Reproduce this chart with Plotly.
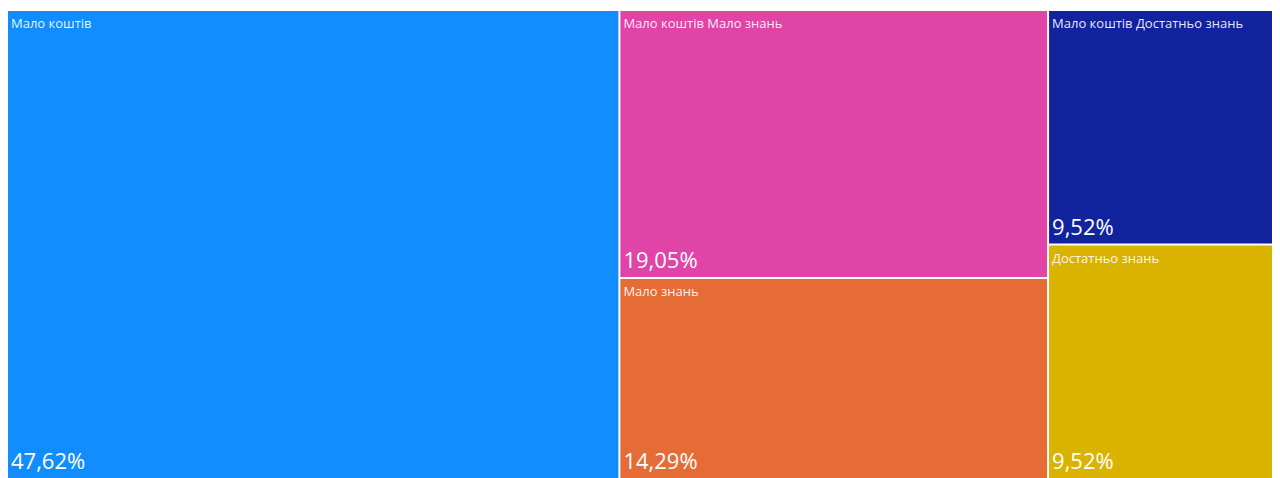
import plotly.graph_objects as go

labels = ["Мало коштів", "Мало коштів Мало знань", "Мало знань",
          "Мало коштів Достатньо знань", "Достатньо знань"]
values = [10, 4, 3, 2, 2]
colors = ["#118DFF", "#E044A7", "#E66C37", "#12239E", "#D9B300"]
parents = [""] * len(labels)

font_family = "Segoe UI, Open Sans, Noto Sans, sans-serif"
dom = dict(x=[0, 1], y=[0, 1])
phi = (1 + 5 ** 0.5) / 2
nopad = dict(t=0, l=0, r=0, b=0)

fig = go.Figure()
fig.add_trace(go.Treemap(
    labels=labels, parents=parents, values=values,
    sort=True, branchvalues="remainder",
    marker=dict(colors=colors, line=dict(width=0), pad=nopad),
    tiling=dict(pad=2, packing="squarify", squarifyratio=phi),
    texttemplate="%{label}", textposition="top left",
    textfont=dict(family=font_family, size=13, color="rgba(255,255,255,0.92)"),
    pathbar=dict(visible=False), domain=dom, hoverinfo="skip",
))
fig.add_trace(go.Treemap(
    labels=labels, parents=parents, values=values,
    sort=True, branchvalues="remainder",
    marker=dict(colors=["rgba(0,0,0,0)"] * len(labels), line=dict(width=0), pad=nopad),
    tiling=dict(pad=2, packing="squarify", squarifyratio=phi),
    texttemplate="%{percentRoot:.2%}", textposition="bottom left",
    textfont=dict(family=font_family, size=22, color="#FFFFFF"),
    pathbar=dict(visible=False), domain=dom, hoverinfo="skip",
))
fig.update_layout(
    width=1284, height=470,
    margin=dict(l=0, r=0, t=3, b=0),
    paper_bgcolor="white", separators=", ",
    showlegend=False,
)
fig.write_html("out.html")
